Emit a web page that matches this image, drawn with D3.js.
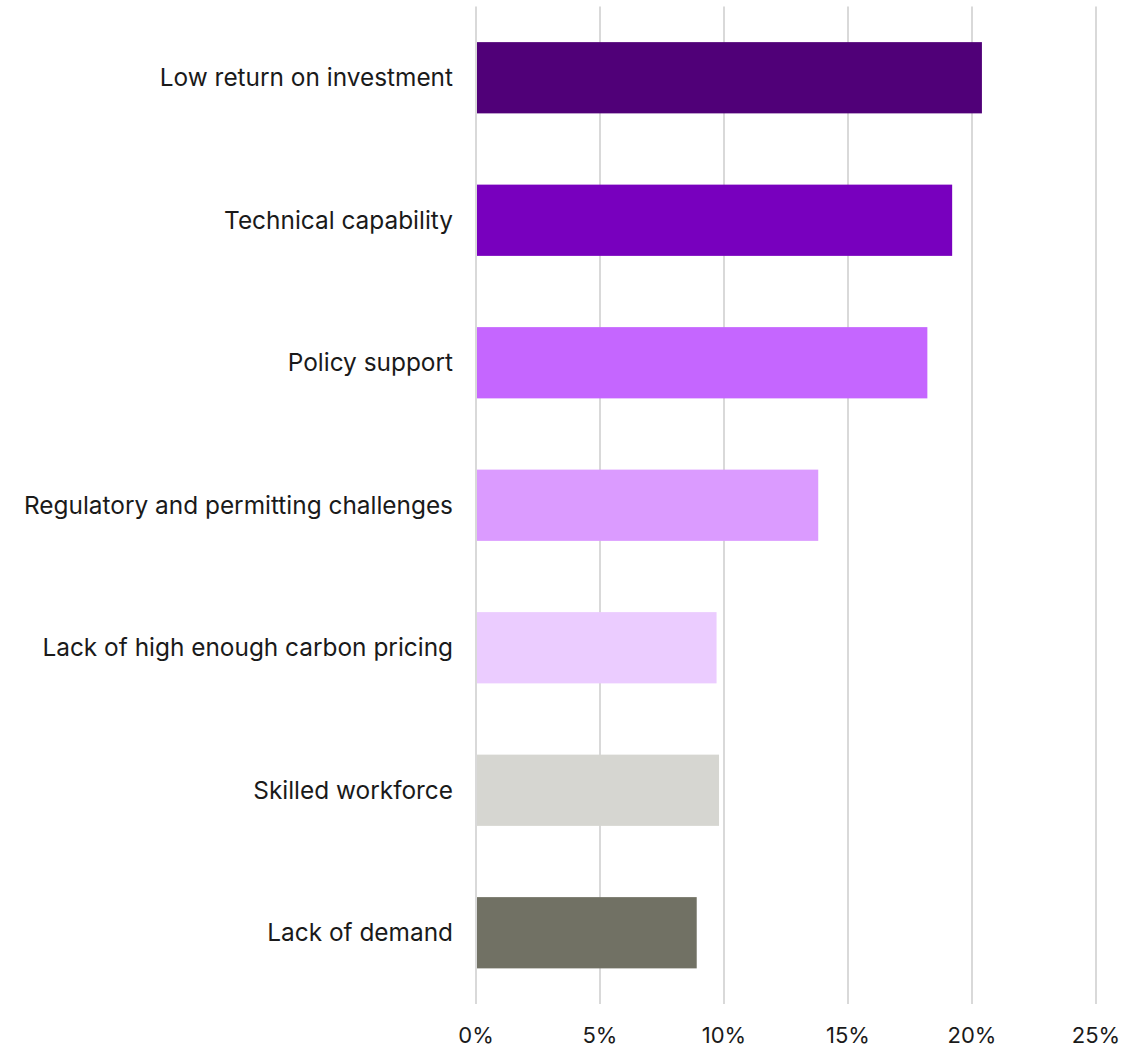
<!DOCTYPE html>
<html><head><meta charset="utf-8">
<script src="https://cdn.jsdelivr.net/npm/d3@7"></script>
<style>body{margin:0;background:#fff}svg{display:block}</style>
</head><body>
<svg id="c" width="1145" height="1047"></svg>
<script>
const categories = ["Low return on investment","Technical capability","Policy support","Regulatory and permitting challenges","Lack of high enough carbon pricing","Skilled workforce","Lack of demand"];
const values = [20.4, 19.2, 18.2, 13.8, 9.7, 9.8, 8.9];
const colors = ["#500078","#7800be","#c566ff","#db9bff","#ebccff","#d6d6d1","#717164"];
const tickValues = [0,5,10,15,20,25];

const svg = d3.select("#c");
const x = d3.scaleLinear().domain([0,25]).range([476,1096]);
const y = d3.scaleBand().domain(categories).range([6.5,1004]).paddingInner(0.5).paddingOuter(0.25);
const font = "Inter, 'Noto Sans', sans-serif";

svg.append("g").selectAll("line").data(tickValues).join("line")
  .attr("x1", d=>x(d)).attr("x2", d=>x(d))
  .attr("y1", 6.5).attr("y2", 1004)
  .attr("stroke", "#d9d9d9").attr("stroke-width", 2);

svg.append("g").selectAll("rect").data(categories).join("rect")
  .attr("x", x(0)+1).attr("y", d=>y(d))
  .attr("width", (d,i)=>x(values[i])-x(0)-1)
  .attr("height", y.bandwidth())
  .attr("fill", (d,i)=>colors[i]);

svg.append("g").selectAll("text").data(categories).join("text")
  .attr("x", 453).attr("y", d=>y(d)+y.bandwidth()/2)
  .attr("dy","0.35em").attr("text-anchor","end")
  .style("font-family", font).style("font-size","24.4px").attr("fill","#1a1a1a")
  .text(d=>d);

svg.append("g").selectAll("text").data(tickValues).join("text")
  .attr("x", d=>x(d)).attr("y", 1043)
  .attr("text-anchor","middle")
  .style("font-family", font).style("font-size","22px").attr("fill","#1a1a1a")
  .text(d=>d+"%");
</script>
</body></html>
